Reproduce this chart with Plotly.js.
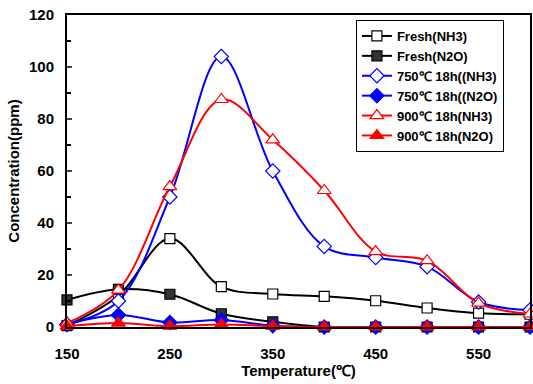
<!DOCTYPE html>
<html><head><meta charset="utf-8">
<script src="https://cdn.plot.ly/plotly-3.0.1.min.js"></script>
<style>html,body{margin:0;padding:0;background:#fff}#c{width:533px;height:384px}</style>
</head><body><div id="c"></div>
<script>
const temps = [150, 200, 250, 300, 350, 400, 450, 500, 550, 600];
const freshNH3 = [0.5, 12, 34, 15.5, 12.7, 11.8, 10.1, 7.3, 5.3, 4.9];
const freshN2O = [10.4, 14.5, 12.6, 5.1, 2, 0, 0, 0, 0, 0];
const t750NH3 = [1, 10, 50, 104, 60, 31, 26.7, 23.2, 9.6, 6.5];
const t750N2O = [1, 4.6, 1.7, 2.7, 0.5, 0, 0, 0, 0, 0];
const t900NH3 = [1.5, 14.2, 54, 87.5, 72, 52.5, 29, 25.5, 9.2, 5];
const t900N2O = [0.3, 1.5, 0.3, 1, 0.3, 0, 0, 0, 0, 0];
const names = ["Fresh(NH3)", "Fresh(N2O)", "750℃ 18h((NH3)", "750℃ 18h((N2O)", "900℃ 18h(NH3)", "900℃ 18h(N2O)"];

function tr(y, name, color, symbol, fill, size) {
  return {
    x: temps, y: y, name: name, type: 'scatter', mode: 'lines+markers', cliponaxis: false,
    line: {color: color, width: 2, shape: 'spline', smoothing: 1},
    marker: {symbol: symbol, size: size, color: fill, line: {color: color, width: 1.2}}
  };
}
const data = [
  tr(freshNH3, names[0], '#000', 'square', '#fff', 10),
  tr(freshN2O, names[1], '#000', 'square', '#333', 10),
  tr(t750NH3, names[2], '#0000ff', 'diamond', '#fff', 11),
  tr(t750N2O, names[3], '#0000ff', 'diamond', '#0000ff', 11),
  tr(t900NH3, names[4], '#ff0000', 'triangle-up', '#fff', 12),
  tr(t900N2O, names[5], '#ff0000', 'triangle-up', '#ff0000', 12)
];
const layout = {
  width: 533, height: 384,
  margin: {l: 67, r: 3, t: 15, b: 57},
  paper_bgcolor: '#fff', plot_bgcolor: '#fff',
  font: {family: 'Liberation Sans, Arial, sans-serif', size: 15, color: '#000', weight: 'bold'},
  showlegend: true,
  legend: {x: 0.624, y: 0.984, xanchor: 'left', yanchor: 'top', bgcolor: '#fff', bordercolor: '#000', borderwidth: 1,
           font: {size: 13, weight: 'bold'}, tracegroupgap: 0, itemwidth: 30},
  xaxis: {range: [150, 600], tickvals: [150, 250, 350, 450, 550], showgrid: false, zeroline: false,
          showline: true, linecolor: '#000', linewidth: 2, mirror: true, ticks: '',
          ticklabelstandoff: 12,
          tickfont: {size: 15, weight: 'bold'},
          title: {text: 'Temperature(℃)', font: {size: 15, weight: 'bold'}, standoff: 3}},
  yaxis: {range: [0, 120], dtick: 20, showgrid: false, zeroline: false,
          showline: true, linecolor: '#000', linewidth: 2, mirror: true, ticks: 'inside', ticklen: 5, tickwidth: 1.5,
          minor: {dtick: 10, ticks: 'inside', ticklen: 4, tickwidth: 1.5, tickcolor: '#000'},
          ticklabelstandoff: 8,
          tickfont: {size: 15, weight: 'bold'},
          title: {text: 'Concentration(ppm)', font: {size: 15, weight: 'bold'}, standoff: 6}}
};
Plotly.newPlot('c', data, layout, {displayModeBar: false, staticPlot: true});
</script></body></html>
